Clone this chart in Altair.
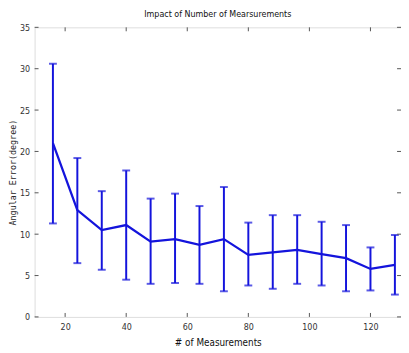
import altair as alt
import pandas as pd

n_meas = [16, 24, 32, 40, 48, 56, 64, 72, 80, 88, 96, 104, 112, 120, 128]
mean_err = [21.0, 12.9, 10.5, 11.1, 9.1, 9.4, 8.7, 9.4, 7.5, 7.8, 8.1, 7.6, 7.1, 5.8, 6.3]
upper_err = [30.6, 19.2, 15.2, 17.7, 14.3, 14.9, 13.4, 15.7, 11.4, 12.3, 12.3, 11.5, 11.1, 8.4, 9.9]
lower_err = [11.3, 6.5, 5.7, 4.5, 4.0, 4.1, 4.0, 3.1, 3.8, 3.4, 4.0, 3.8, 3.1, 3.2, 2.7]
x_ticks = [20, 40, 60, 80, 100, 120]
y_ticks = [0, 5, 10, 15, 20, 25, 30, 35]

W, H = 372, 294
BLUE = "#1414dc"
FONT = "DejaVu Sans Condensed"

df = pd.DataFrame({"x": n_meas, "m": mean_err, "hi": upper_err, "lo": lower_err})
xt = pd.DataFrame({"x": x_ticks})
yt = pd.DataFrame({"y": y_ticks})

xs = alt.Scale(domain=[10, 130], nice=False, zero=False)
ys = alt.Scale(domain=[0, 35], nice=False)

xaxis = alt.Axis(values=x_ticks, title="# of Measurements", ticks=False, domain=False, grid=False,
                 labelFont=FONT, labelFontSize=9, labelColor="#333", labelPadding=6,
                 titleFont=FONT, titleFontSize=10, titleFontWeight="normal", titleColor="#111",
                 titlePadding=6)
yaxis = alt.Axis(values=y_ticks, title="Angular Error(degree)", ticks=False, domain=False, grid=False,
                 labelFont=FONT, labelFontSize=9, labelColor="#333", labelPadding=5,
                 titleFont="DejaVu Sans Mono", titleFontSize=8.5, titleFontWeight="normal",
                 titleColor="#222", titleX=-17, titleY=H / 2)

bars = alt.Chart(df).mark_rule(color=BLUE, strokeWidth=2).encode(
    x=alt.X("x:Q", scale=xs, axis=xaxis),
    y=alt.Y("lo:Q", scale=ys, axis=yaxis),
    y2="hi:Q",
)
cap_hi = alt.Chart(df).mark_tick(color=BLUE, orient="horizontal", size=8, thickness=2).encode(
    x="x:Q", y="hi:Q")
cap_lo = alt.Chart(df).mark_tick(color=BLUE, orient="horizontal", size=8, thickness=2).encode(
    x="x:Q", y="lo:Q")
line = alt.Chart(df).mark_line(color=BLUE, strokeWidth=2.3).encode(x="x:Q", y="m:Q")

tick_style = dict(color="#555", strokeWidth=1)
tb = alt.Chart(xt).mark_rule(**tick_style).encode(x="x:Q", y=alt.value(H), y2=alt.value(H - 4))
tt = alt.Chart(xt).mark_rule(**tick_style).encode(x="x:Q", y=alt.value(0), y2=alt.value(4))
tl = alt.Chart(yt).mark_rule(**tick_style).encode(y="y:Q", x=alt.value(0), x2=alt.value(4))
tr = alt.Chart(yt).mark_rule(**tick_style).encode(y="y:Q", x=alt.value(W), x2=alt.value(W - 4))

chart = alt.layer(bars, cap_hi, cap_lo, line, tb, tt, tl, tr).properties(
    width=W, height=H,
    title=alt.TitleParams("Impact of Number of Mearsurements", font=FONT, fontSize=9,
                          fontWeight="normal", color="#111", offset=5),
    autosize=alt.AutoSizeParams(type="none"),
    padding={"left": 27, "top": 17, "right": 0, "bottom": 34},
).configure_view(stroke="#222", strokeWidth=1.2).configure(background="white")

chart.save("out.html", embed_options={"renderer": "svg", "actions": False})
